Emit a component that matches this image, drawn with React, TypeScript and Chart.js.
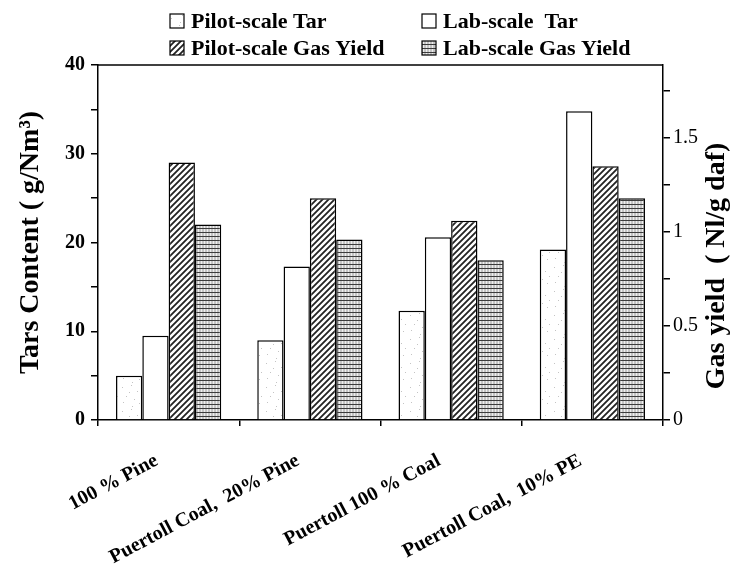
import React, { useEffect, useRef } from 'react';
import { Chart, registerables } from 'chart.js';

Chart.register(...registerables);

const categories = ['100 % Pine', 'Puertoll Coal,  20% Pine', 'Puertoll 100 % Coal', 'Puertoll Coal,  10% PE'];
const seriesLabels = ['Pilot-scale Tar', 'Lab-scale  Tar', 'Pilot-scale Gas Yield', 'Lab-scale Gas Yield'];
const pilotTar = [5.0, 9.0, 12.3, 19.2];
const labTar = [9.5, 17.3, 20.6, 34.8];
const pilotGas = [1.37, 1.18, 1.06, 1.35];
const labGas = [1.04, 0.96, 0.85, 1.18];
const leftTicks = [0, 10, 20, 30, 40];
const rightTicks = [0, 0.5, 1, 1.5];
const leftTitle = 'Tars Content ( g/Nm³)';
const rightTitle = 'Gas yield  ( Nl/g daf)';

const FAMILY = '"Liberation Serif", "Times New Roman", serif';

function makeTile(w: number, h: number, draw: (c: CanvasRenderingContext2D) => void): CanvasPattern | string {
  const cv = document.createElement('canvas');
  cv.width = w;
  cv.height = h;
  const c = cv.getContext('2d');
  if (!c) return '#fff';
  draw(c);
  const p = c.createPattern(cv, 'repeat');
  return p || '#fff';
}

function stipple() {
  const dots = [[2, 3], [11, 1], [17, 7], [6, 12], [14, 15], [3, 18], [9, 8], [19, 19], [12, 22], [21, 12]];
  return makeTile(24, 24, (c) => {
    c.fillStyle = '#ffffff';
    c.fillRect(0, 0, 24, 24);
    c.fillStyle = '#c4c4c4';
    dots.forEach(([x, y]) => c.fillRect(x, y, 1, 1));
  });
}

function hatch() {
  return makeTile(6, 6, (c) => {
    c.fillStyle = '#ffffff';
    c.fillRect(0, 0, 6, 6);
    c.strokeStyle = '#222';
    c.lineWidth = 1.8;
    c.beginPath();
    c.moveTo(-1, 7); c.lineTo(7, -1);
    c.moveTo(-4, 4); c.lineTo(4, -4);
    c.moveTo(2, 10); c.lineTo(10, 2);
    c.stroke();
  });
}

function gridPat() {
  return makeTile(3, 4, (c) => {
    c.fillStyle = '#c4c4c4';
    c.fillRect(0, 0, 3, 4);
    c.fillStyle = '#eeeeee';
    c.fillRect(0, 1, 1, 3);
    c.fillStyle = '#3c3c3c';
    c.fillRect(0, 0, 3, 1);
  });
}

const decorPlugin = {
  id: 'decor',
  afterDraw(chart: any) {
    const ctx = chart.ctx as CanvasRenderingContext2D;
    const { top, left, right } = chart.chartArea;
    ctx.save();
    ctx.strokeStyle = '#000';
    ctx.lineWidth = 1.5;
    ctx.beginPath();
    ctx.moveTo(left, top);
    ctx.lineTo(right, top);
    ctx.stroke();

    const colX = [170, 422];
    const rowY = [21, 48];
    ctx.font = `bold 22px ${FAMILY}`;
    ctx.textBaseline = 'middle';
    ctx.textAlign = 'left';
    chart.data.datasets.forEach((ds: any, i: number) => {
      const bx = colX[i % 2];
      const cy = rowY[Math.floor(i / 2)];
      ctx.fillStyle = ds.backgroundColor;
      ctx.fillRect(bx, cy - 7, 14, 14);
      ctx.lineWidth = 1.2;
      ctx.strokeStyle = '#000';
      ctx.strokeRect(bx, cy - 7, 14, 14);
      ctx.fillStyle = '#000';
      ctx.fillText(ds.label, bx + 21, cy + 1);
    });

    ctx.translate(717, 266);
    ctx.rotate(-Math.PI / 2);
    ctx.textAlign = 'center';
    ctx.font = `bold 28px ${FAMILY}`;
    ctx.fillStyle = '#000';
    ctx.fillText(rightTitle, 0, 0);
    ctx.restore();
  },
};

export default function App() {
  const ref = useRef<HTMLCanvasElement | null>(null);
  useEffect(() => {
    document.body.style.margin = '0';
    if (!ref.current) return;
    const near = (a: number, list: number[]) => list.some((t) => Math.abs(a - t) < 1e-6);
    const common = { borderColor: '#000', borderWidth: 1.5, barPercentage: 1, categoryPercentage: 0.745 };
    const chart = new Chart(ref.current, {
      type: 'bar',
      data: {
        labels: categories,
        datasets: [
          { label: seriesLabels[0], data: pilotTar, yAxisID: 'y', backgroundColor: stipple(), ...common },
          { label: seriesLabels[1], data: labTar, yAxisID: 'y', backgroundColor: '#ffffff', ...common },
          { label: seriesLabels[2], data: pilotGas, yAxisID: 'y2', backgroundColor: hatch(), ...common },
          { label: seriesLabels[3], data: labGas, yAxisID: 'y2', backgroundColor: gridPat(), ...common },
        ],
      } as any,
      options: {
        animation: false,
        responsive: false,
        layout: { padding: { top: 65, left: 0, right: 0, bottom: 0 } },
        plugins: { legend: { display: false }, tooltip: { enabled: false } },
        scales: {
          x: {
            grid: { offset: true, drawOnChartArea: false, tickLength: 6, color: '#000', lineWidth: 1.5 },
            border: { color: '#000', width: 1.5 },
            ticks: {
              color: '#000',
              font: { family: FAMILY, size: 20, weight: 'bold' },
              maxRotation: 28,
              minRotation: 28,
              autoSkip: false,
              padding: 23,
              labelOffset: -12,
            },
            afterFit: (s: any) => { s.height = 163; },
          },
          y: {
            type: 'linear',
            position: 'left',
            min: 0,
            max: 40,
            ticks: {
              stepSize: 5,
              color: '#000',
              padding: 6,
              font: { family: FAMILY, size: 20, weight: 'bold' },
              callback: (v: any) => (near(Number(v), leftTicks) ? String(v) : ''),
            },
            grid: { drawOnChartArea: false, tickLength: 7, color: '#000', lineWidth: 1.5 },
            border: { color: '#000', width: 1.5 },
            title: {
              display: true,
              text: leftTitle,
              color: '#000',
              font: { family: FAMILY, size: 28, weight: 'bold' },
              padding: { top: 14, bottom: 0 },
            },
            afterFit: (s: any) => { s.width = 98; },
          },
          y2: {
            type: 'linear',
            position: 'right',
            min: 0,
            max: 1.888,
            ticks: {
              stepSize: 0.25,
              includeBounds: false,
              color: '#000',
              padding: 3,
              font: { family: FAMILY, size: 20 },
              callback: (v: any) => (near(Number(v), rightTicks) ? String(Number(v)) : ''),
            },
            grid: { drawOnChartArea: false, tickLength: 7, color: '#000', lineWidth: 1.5 },
            border: { color: '#000', width: 1.5 },
            afterFit: (s: any) => { s.width = 68; },
          },
        },
      } as any,
      plugins: [decorPlugin],
    });
    return () => chart.destroy();
  }, []);
  return (
    <div style={{ width: 731, height: 583 }}>
      <canvas ref={ref} width={731} height={583} style={{ display: 'block' }} />
    </div>
  );
}
